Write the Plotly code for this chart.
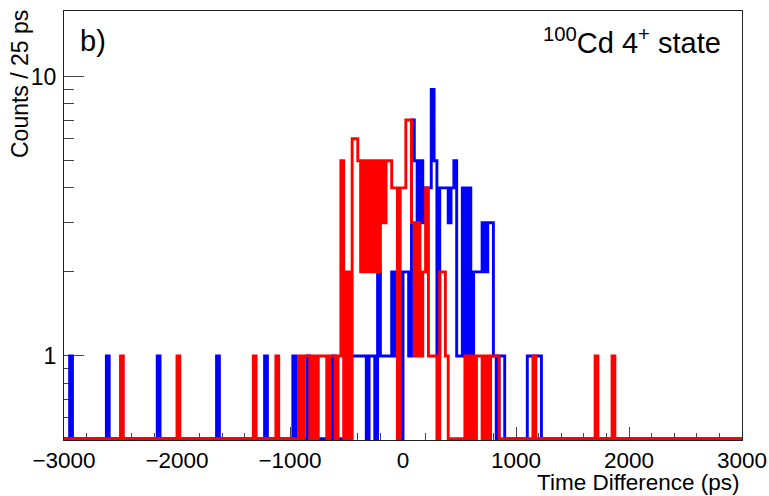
import numpy as np
import plotly.graph_objects as go

# ---------------- data ----------------
x_min, x_max, bin_width = -3000, 3000, 25
y_floor = 0.505  # empty bins are drawn at the bottom of the log axis

# red histogram: bin low edges (ps) and counts (non-empty bins only)
red_bin_low = [-2500, -2000, -1325, -1125,
               -925, -875, -850, -800, -750, -725, -700, -650, -625, -575,
               -550, -500, -450, -425,
               -400, -375, -350, -325, -300, -275, -250, -225, -200, -175, -150, -125,
               -100, -75, -25, 0, 25, 50, 75, 100, 125, 150, 175, 200, 225, 250,
               275, 325, 350, 375,
               550, 600, 650, 675, 725, 775, 800, 825,
               1150, 1700, 1850]
red_counts = [1, 1, 1, 1,
              1, 1, 1, 1, 1, 1, 1, 1, 1, 1,
              5, 2, 6, 6,
              5, 2, 5, 2, 5, 2, 5, 2, 5, 3, 5, 5,
              4, 4, 4, 4, 7, 7, 3, 1, 3, 1, 2, 4, 1, 1,
              1, 2, 2, 1,
              1, 1, 1, 1, 1, 1, 1, 1,
              1, 1, 1]

# blue histogram
blue_bin_low = [-2950, -2625, -2175, -1650, -1225, -975, -850, -625,
                -475, -450, -425, -400, -375, -350, -300, -275, -225, -200,
                -175, -150, -125, -100, -75, -50, 0, 25, 50, 75, 100, 125,
                150, 175, 200, 225, 250, 275, 300, 325, 350, 375, 400, 425,
                450, 475, 500, 525, 575, 625, 650, 675, 700, 725, 750, 775,
                800, 850, 875,
                1100, 1125, 1150, 1175, 1200]
blue_counts = [1, 1, 1, 1, 1, 1, 1, 1,
               1, 1, 1, 1, 1, 1, 1, 1, 2, 1,
               1, 1, 1, 2, 1, 2, 2, 2, 1, 7, 5, 3,
               5, 3, 4, 4, 9, 5, 1, 4, 4, 4, 3, 4,
               5, 1, 1, 4, 4, 2, 2, 2, 3, 2, 3, 3,
               1, 1, 1,
               1, 1, 1, 1, 1]

x_tick_vals = [-3000, -2000, -1000, 0, 1000, 2000, 3000]
x_tick_text = ["\u22123000", "\u22122000", "\u22121000", "0", "1000", "2000", "3000"]
y_tick_vals = [1, 10]
y_tick_text = ["1", "10"]
y_minor_vals = [0.6, 0.7, 0.8, 0.9, 2, 3, 4, 5, 6, 7, 8, 9]

# ---------------- build step histograms ----------------
n_bins = int((x_max - x_min) / bin_width)
edges = x_min + bin_width * np.arange(n_bins + 1)


def hist_steps(lows, counts):
    full = np.zeros(n_bins)
    for lo, c in zip(lows, counts):
        full[int((lo - x_min) // bin_width)] = c
    y = np.where(full > 0, full, y_floor)
    return edges, np.append(y, y[-1])


fig = go.Figure()
for lows, counts, col in [(blue_bin_low, blue_counts, "#0000ff"),
                          (red_bin_low, red_counts, "#ff0000")]:
    xs, ys = hist_steps(lows, counts)
    fig.add_trace(go.Scatter(x=xs, y=ys, mode="lines", line_shape="hv",
                             line=dict(color=col, width=2.9),
                             showlegend=False, hoverinfo="skip"))

font_main = "Liberation Sans, Arial, Helvetica, sans-serif"
W, H = 769, 496
L, R, T, B = 64, 27, 11, 56
pw, ph = W - L - R, H - T - B


def px(x):
    return (x - L) / pw


def py(y):
    return (H - B - y) / ph


fig.update_layout(
    width=W, height=H,
    margin=dict(l=L, r=R, t=T, b=B, autoexpand=False),
    paper_bgcolor="white", plot_bgcolor="white",
    font=dict(family=font_main, size=24, color="black"),
    xaxis=dict(range=[x_min, x_max], showgrid=False, zeroline=False,
               automargin=False,
               showline=True, mirror=True, linecolor="#222", linewidth=1.2,
               ticks="inside", ticklen=13, tickwidth=1.2, tickcolor="#444",
               tickvals=x_tick_vals, ticktext=x_tick_text,
               tickfont=dict(size=22.5), ticklabelstandoff=0,
               layer="below traces",
               minor=dict(dtick=200, tick0=0, ticks="inside", ticklen=7,
                          tickwidth=1.2, tickcolor="#444")),
    yaxis=dict(type="log", range=[np.log10(0.5), np.log10(17.2)],
               showgrid=False, zeroline=False, automargin=False,
               showline=True, mirror=True, linecolor="#222", linewidth=1.2,
               ticks="inside", ticklen=20, tickwidth=1.2, tickcolor="#444",
               tickvals=y_tick_vals, ticktext=y_tick_text,
               tickfont=dict(size=23), ticklabelstandoff=2,
               layer="below traces",
               minor=dict(tickmode="array", tickvals=y_minor_vals,
                          ticks="inside", ticklen=10, tickwidth=1.2,
                          tickcolor="#444")),
)

fig.add_annotation(text="Time Difference (ps)", xref="paper", yref="paper",
                   x=1.0, y=py(482), xanchor="right", yanchor="middle",
                   showarrow=False, font=dict(size=22.5))
fig.add_annotation(text="Counts / 25 ps", xref="paper", yref="paper",
                   x=px(20), y=py(8), xanchor="center", yanchor="top",
                   textangle=-90, showarrow=False, font=dict(size=23))
fig.add_annotation(text="b)", xref="paper", yref="paper",
                   x=px(78), y=py(41), xanchor="left", yanchor="middle",
                   showarrow=False, font=dict(size=29))
fig.add_annotation(text="<sup>100</sup>Cd 4<sup>+</sup> state", xref="paper",
                   yref="paper", x=px(723), y=py(41), xanchor="right",
                   yanchor="middle", showarrow=False, font=dict(size=29))

fig.write_html("out.html")
